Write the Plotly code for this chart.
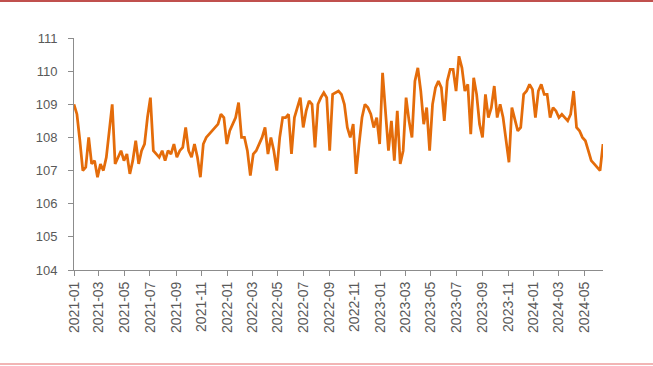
import pandas as pd
import plotly.graph_objects as go

# Weekly readings from 2021-01-01
start_date = "2021-01-01"
values = [
    109.0, 108.7, 107.9, 107.0, 107.1, 108.0, 107.2, 107.3, 106.8, 107.2,
    107.0, 107.4, 108.2, 109.0, 107.2, 107.4, 107.6, 107.3, 107.5, 106.9,
    107.3, 107.9, 107.2, 107.6, 107.8, 108.6, 109.2, 107.6, 107.5, 107.4,
    107.6, 107.3, 107.6, 107.5, 107.8, 107.4, 107.6, 107.7, 108.3, 107.6,
    107.4, 107.8, 107.4, 106.8, 107.8, 108.0, 108.1, 108.2, 108.3, 108.4,
    108.7, 108.6, 107.8, 108.2, 108.4, 108.6, 109.05, 108.0, 108.0, 107.6,
    106.85, 107.5, 107.6, 107.8, 108.0, 108.3, 107.5, 108.0, 107.6, 107.0,
    108.0, 108.6, 108.6, 108.7, 107.5, 108.6, 108.9, 109.2, 108.3, 108.8,
    109.1, 109.0, 107.7, 109.0, 109.2, 109.35, 109.2, 107.6, 109.3, 109.35,
    109.4, 109.3, 109.0, 108.3, 108.0, 108.4, 106.9, 107.8, 108.6, 109.0,
    108.9, 108.7, 108.3, 108.6, 107.8, 109.95, 108.9, 107.6, 108.5, 107.3,
    108.8, 107.2, 107.6, 109.2, 108.5, 108.0, 109.7, 110.1, 109.4, 108.4,
    108.9, 107.6, 109.0, 109.5, 109.7, 109.5, 108.5, 109.7, 110.05, 110.05,
    109.4, 110.45, 110.1, 109.4, 109.6, 108.1, 109.8, 109.3, 108.4, 108.0,
    109.3, 108.6, 108.9, 109.55, 108.6, 109.0, 108.6, 107.9, 107.25, 108.9,
    108.5, 108.2, 108.3, 109.3, 109.4, 109.6, 109.45, 108.6, 109.4, 109.6,
    109.3, 109.3, 108.6, 108.9, 108.8, 108.6, 108.7, 108.6, 108.5, 108.7,
    109.4, 108.3, 108.2, 108.0, 107.9, 107.6, 107.3, 107.2, 107.1, 107.0,
    107.8,
]
dates = pd.date_range(start_date, periods=len(values), freq="7D")

y_ticks = [104, 105, 106, 107, 108, 109, 110, 111]

fig = go.Figure()
fig.add_trace(go.Scatter(
    x=dates, y=values, mode="lines",
    line=dict(color="#E46C0A", width=2.75),
    showlegend=False, hoverinfo="skip",
))

axis_color = "#8C8C8C"
font = dict(family="Liberation Sans, Arial, sans-serif", size=13, color="#595959")
xfont = dict(family="Liberation Sans, Arial, sans-serif", size=14, color="#595959")

fig.update_layout(
    width=653, height=366,
    margin=dict(l=74, r=50, t=38, b=96),
    paper_bgcolor="white", plot_bgcolor="white",
    font=font,
    xaxis=dict(
        type="date",
        range=[dates[0], dates[-1]],
        tick0="2021-01-01", dtick="M2", tickformat="%Y-%m",
        tickangle=-90,
        showgrid=False, zeroline=False,
        showline=True, linecolor=axis_color, linewidth=1,
        ticks="outside", ticklen=5, tickcolor=axis_color,
        tickfont=xfont,
    ),
    yaxis=dict(
        range=[104, 111], tickvals=y_ticks,
        showgrid=False, zeroline=False,
        showline=True, linecolor=axis_color, linewidth=1,
        ticks="outside", ticklen=5, tickcolor=axis_color,
        tickfont=font, ticklabelstandoff=8,
    ),
    shapes=[
        dict(type="line", xref="paper", yref="paper",
             x0=-74/529, x1=1+50/529, y0=1+37/232, y1=1+37/232,
             line=dict(color="#C0504D", width=2)),
        dict(type="line", xref="paper", yref="paper",
             x0=-74/529, x1=1+50/529, y0=-94/232, y1=-94/232,
             line=dict(color="#F2B5B5", width=2)),
    ],
)

fig.write_html(
    "out.html",
    config={"displayModeBar": False},
    post_script="document.body.style.margin='0';",
)
